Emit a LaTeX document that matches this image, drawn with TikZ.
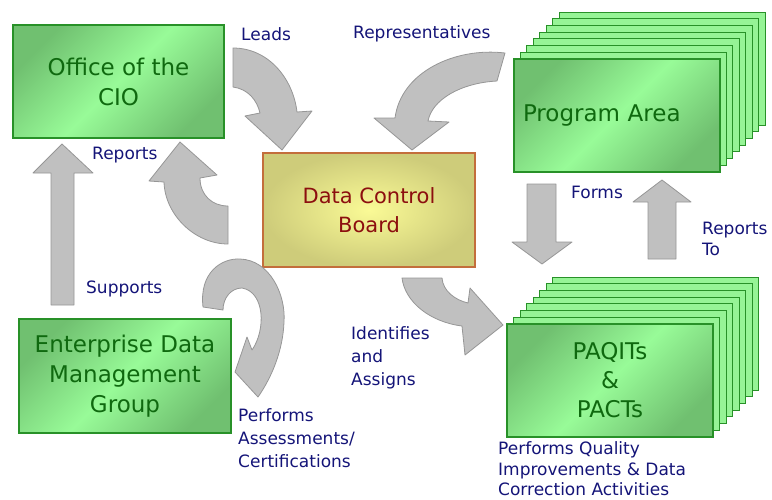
\documentclass[tikz,border=0pt]{standalone}
\usepackage{fontspec}
\setmainfont{DejaVu Sans}
\usetikzlibrary{calc}
\definecolor{labelcol}{RGB}{20,20,120}
\definecolor{greentext}{RGB}{15,105,15}
\definecolor{redtext}{RGB}{140,15,15}
\definecolor{gborder}{RGB}{40,145,40}
\definecolor{glight}{RGB}{152,251,152}
\definecolor{gdark}{RGB}{112,192,112}
\definecolor{gback}{RGB}{150,244,150}
\definecolor{ylight}{RGB}{250,250,150}
\definecolor{ydark}{RGB}{206,204,122}
\definecolor{yborder}{RGB}{195,110,60}
\definecolor{arrowgray}{RGB}{192,192,192}
\definecolor{arrowedge}{RGB}{150,150,150}
\begin{document}
\begin{tikzpicture}[x=1pt,y=-1pt,
  greenbox/.style={draw=gborder, line width=1.2pt, top color=gdark, bottom color=gdark,
    middle color=glight, shading angle=45, text=greentext,
    font=\fontsize{23}{30}\selectfont, align=center},
  backbox/.style={draw=gborder, line width=1pt, fill=gback},
  dcbbox/.style={draw=yborder, line width=1.2pt, inner color=ylight, outer color=ydark,
    text=redtext, font=\fontsize{21}{29}\selectfont, align=center},
  lbl/.style={font=\fontsize{17}{22}\selectfont, text=labelcol, align=left, anchor=west, inner sep=0pt},
  blockarrow/.style={fill=arrowgray, draw=arrowedge, line width=0.8pt, line join=round}]
\useasboundingbox (0,0) rectangle (772,499);

% stacked back boxes
\coordinate (panw) at (514,59);
\coordinate (pqnw) at (507,324);
\foreach \i in {7,6,...,1} {
  \draw[backbox] ($(panw)+(\i*6.43,-\i*6.71)$) rectangle ++(206,113);
  \draw[backbox] ($(pqnw)+(\i*6.57,-\i*6.71)$) rectangle ++(206,113);
}

% boxes
\node[greenbox, minimum width=211pt, minimum height=113pt] (cio) at (118.5,81.5) {Office of the\\CIO};
\node[dcbbox, minimum width=212pt, minimum height=114pt] (dcb) at (369,210) {Data Control\\Board};
\node[greenbox, minimum width=206pt, minimum height=113pt, text width=188pt, inner xsep=9pt, align=left] (pa) at (617,115.5) {Program Area};
\node[greenbox, minimum width=206pt, minimum height=113pt, font=\fontsize{23}{29}\selectfont] (pq) at (610,380.5) {PAQITs\\\&\\PACTs};
\node[greenbox, minimum width=212pt, minimum height=114pt] (edm) at (125,376) {Enterprise Data\\Management\\Group};

% block arrows
% Leads
\draw[blockarrow] (233,48) .. controls (268,48) and (293,78) .. (297,112) -- (312,111) -- (282,150)
  -- (245,116) -- (260,113) .. controls (257,100) and (248,89) .. (233,87) -- cycle;
% Representatives
\draw[blockarrow] (505,53) .. controls (455,47) and (401,72) .. (395,118) -- (374,118) -- (412,150)
  -- (449,122) -- (428,121) .. controls (432,100) and (460,83) .. (497,81) -- cycle;
% Reports (DCB to CIO)
\draw[blockarrow] (228,244) .. controls (195,244) and (165,215) .. (164,182) -- (149,181) -- (180,142)
  -- (217,175) -- (200,178) .. controls (200,195) and (212,206) .. (228,206) -- cycle;
% Performs assessments (circular)
\draw[blockarrow] (203,307) .. controls (199,272) and (222,258) .. (240,259)
  .. controls (270,260) and (286,295) .. (284,322)
  .. controls (283,350) and (272,377) .. (258,397) -- (235,372) -- (247,337) -- (252,350)
  .. controls (266,330) and (265,292) .. (242,288)
  .. controls (231,288) and (223,298) .. (223,310) -- cycle;
% Identifies and assigns
\draw[blockarrow] (402,278) .. controls (405,302) and (430,322) .. (462,326) -- (465,355) -- (503,325)
  -- (470,288) -- (468,303) .. controls (455,300) and (443,291) .. (442,278) -- cycle;
% Supports (straight up)
\draw[blockarrow] (51,305) -- (51,173) -- (33,173) -- (62,144) -- (93,173) -- (74,173) -- (74,305) -- cycle;
% Forms (straight down)
\draw[blockarrow] (527,184) -- (556,184) -- (556,242) -- (572,242) -- (542,264) -- (512,242) -- (527,242) -- cycle;
% Reports To (straight up)
\draw[blockarrow] (648,259) -- (648,202) -- (633,202) -- (662,180) -- (691,202) -- (676,202) -- (676,259) -- cycle;

% labels
\node[lbl] (lleads) at (241,34) {Leads};
\node[lbl] (lrep) at (353,34) {Representatives};
\node[lbl] (lreports) at (92,155) {Reports};
\node[lbl] (lsupports) at (86,289) {Supports};
\node[lbl, font=\fontsize{17}{21}\selectfont] (lforms) at (571,192) {Forms};
\node[lbl, font=\fontsize{17}{21}\selectfont] (lrepto) at (702,239) {Reports\\To};
\node[lbl, font=\fontsize{17}{23}\selectfont] (lident) at (351,358) {Identifies\\and\\Assigns};
\node[lbl, font=\fontsize{17}{23}\selectfont] (lperf) at (238,438) {Performs\\Assessments/\\Certifications};
\node[lbl, font=\fontsize{17}{20.5}\selectfont] (lqual) at (498,469) {Performs Quality\\Improvements \& Data\\Correction Activities};
\end{tikzpicture}
\end{document}
